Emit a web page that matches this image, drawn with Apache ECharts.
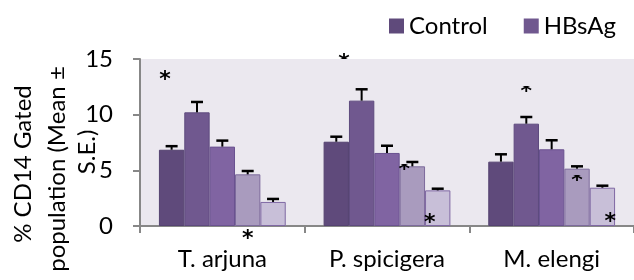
<!DOCTYPE html>
<html><head><meta charset="utf-8">
<script src="https://cdn.jsdelivr.net/npm/echarts@6/dist/echarts.min.js"></script>
<style>html,body{margin:0;padding:0;background:#fff}#c{width:634px;height:280px}</style>
</head><body><div id="c"></div>
<script>
const categories = ['T. arjuna', 'P. spicigera', 'M. elengi'];
const seriesNames = ['Control', 'HBsAg', 'Series 3', 'Series 4', 'Series 5'];
const legendNames = ['Control', 'HBsAg'];
const s1 = [6.85, 7.57, 5.78];
const s2 = [10.21, 11.26, 9.19];
const s3 = [7.13, 6.56, 6.89];
const s4 = [4.64, 5.36, 5.15];
const s5 = [2.16, 3.20, 3.44];
const e1 = [0.32, 0.45, 0.66];
const e2 = [0.93, 1.02, 0.60];
const e3 = [0.54, 0.65, 0.81];
const e4 = [0.30, 0.39, 0.21];
const e5 = [0.27, 0.15, 0.18];
const yTicks = [0, 5, 10, 15];
// significance asterisks: category index, position in bar units, value, visible part
const starCat = [0, 0, 1, 1, 1, 2, 2, 2];
const starBar = [-0.26, 3, 0.3, 2.68, 3.69, 1.0, 3.0, 4.31];
const starVal = [13.75, -0.54, 15.2, 5.66, 0.84, 12.67, 4.67, 1.0];
const starPart = ['all', 'all', 'upper', 'lower', 'all', 'lower', 'lower', 'all'];

const values = [s1, s2, s3, s4, s5];
const errors = [e1, e2, e3, e4, e5];
const colors = ['#5F4A7B', '#70588F', '#8064A2', '#A99BBE', '#C8BFD8'];
const borders = ['#544270', '#5E4A7E', '#6A5290', '#7D6B9C', '#7F68A3'];
const FONT = 'Lato, "Open Sans", sans-serif';
const FS = 24;
const CAT_GAP = 0.23;
const NBARS = 5;

const barSeries = values.map((v, i) => ({
  name: seriesNames[i], type: 'bar', data: v,
  barGap: '0%', barCategoryGap: (CAT_GAP * 100) + '%',
  itemStyle: { color: colors[i], borderColor: borders[i], borderWidth: 1 },
  emphasis: { disabled: true }, z: 2
}));

const errData = [];
values.forEach((v, i) => v.forEach((val, c) => errData.push([c, i, val, errors[i][c]])));
const starData = starCat.map((c, k) => [c, starBar[k], starVal[k], k]);

function barX(api, cat, pos) {
  const catW = api.size([1, 0])[0];
  const bw = catW * (1 - CAT_GAP) / NBARS;
  return api.coord([cat, 0])[0] + (pos - (NBARS - 1) / 2) * bw;
}

const option = {
  animation: false,
  textStyle: { fontFamily: FONT },
  grid: { left: 140, top: 59, right: -3, bottom: 54, show: true, backgroundColor: '#EBE8EF', borderWidth: 0 },
  legend: {
    data: legendNames, left: 384, top: 9, itemWidth: 15, itemHeight: 15, itemGap: 36,
    icon: 'rect', textStyle: { fontSize: FS, color: '#000', fontFamily: FONT },
    itemStyle: { borderWidth: 0 }
  },
  xAxis: {
    type: 'category', data: categories,
    axisLine: { lineStyle: { color: '#878787', width: 2 } },
    axisTick: { show: true, length: 7, lineStyle: { color: '#878787', width: 2 } },
    axisLabel: { fontSize: FS, color: '#000', margin: 21, fontFamily: FONT }
  },
  yAxis: {
    type: 'value', min: 0, max: 15, interval: 5,
    axisLine: { show: true, lineStyle: { color: '#878787', width: 2 } },
    axisTick: { show: true, length: 7, lineStyle: { color: '#878787', width: 2 } },
    splitLine: { show: false },
    axisLabel: { fontSize: FS, color: '#000', margin: 27, fontFamily: FONT,
      formatter: v => yTicks.includes(v) ? String(v) : '' }
  },
  graphic: [
    { type: 'text', x: 23, y: 164, rotation: Math.PI / 2, style: { text: '% CD14 Gated', font: FS + 'px ' + FONT, fill: '#000', textAlign: 'center', textVerticalAlign: 'middle' } },
    { type: 'text', x: 57, y: 169, rotation: Math.PI / 2, style: { text: 'population (Mean ±', font: FS + 'px ' + FONT, fill: '#000', textAlign: 'center', textVerticalAlign: 'middle' } },
    { type: 'text', x: 87, y: 152, rotation: Math.PI / 2, style: { text: 'S.E.)', font: FS + 'px ' + FONT, fill: '#000', textAlign: 'center', textVerticalAlign: 'middle' } }
  ],
  series: barSeries.concat([
    {
      type: 'custom', name: 'err', data: errData, encode: { x: 0, y: 2 }, z: 5, silent: true,
      renderItem: (params, api) => {
        const cat = api.value(0), bi = api.value(1), v = api.value(2), e = api.value(3);
        const x = barX(api, cat, bi);
        const y0 = api.coord([cat, v])[1];
        const y1 = api.coord([cat, v + e])[1];
        return { type: 'group', children: [
          { type: 'line', shape: { x1: x, y1: y0, x2: x, y2: y1 }, style: { stroke: '#000', lineWidth: 2 } },
          { type: 'line', shape: { x1: x - 6, y1: y1, x2: x + 6, y2: y1 }, style: { stroke: '#000', lineWidth: 2.5 } }
        ] };
      }
    },
    {
      type: 'custom', name: 'stars', data: starData, encode: { x: 0, y: 2 }, z: 6, silent: true,
      renderItem: (params, api) => {
        const cat = api.value(0), pos = api.value(1), v = api.value(2), k = api.value(3);
        const x = barX(api, cat, pos);
        const y = api.coord([cat, v])[1];
        const part = starPart[k];
        const el = { type: 'text', x: x, y: y + 7,
          style: { text: '*', font: 'bold 22px "DejaVu Sans"', fill: '#000', textAlign: 'center', textVerticalAlign: 'middle' } };
        if (part === 'lower') el.clipPath = { type: 'rect', shape: { x: -12, y: -6, width: 24, height: 20 } };
        if (part === 'upper') el.clipPath = { type: 'rect', shape: { x: -12, y: -30, width: 24, height: api.coord([cat, 15])[1] - (y + 7) + 30 } };
        return el;
      }
    }
  ])
};
const chart = echarts.init(document.getElementById('c'), null, { renderer: 'canvas' });
chart.setOption(option);
</script></body></html>
